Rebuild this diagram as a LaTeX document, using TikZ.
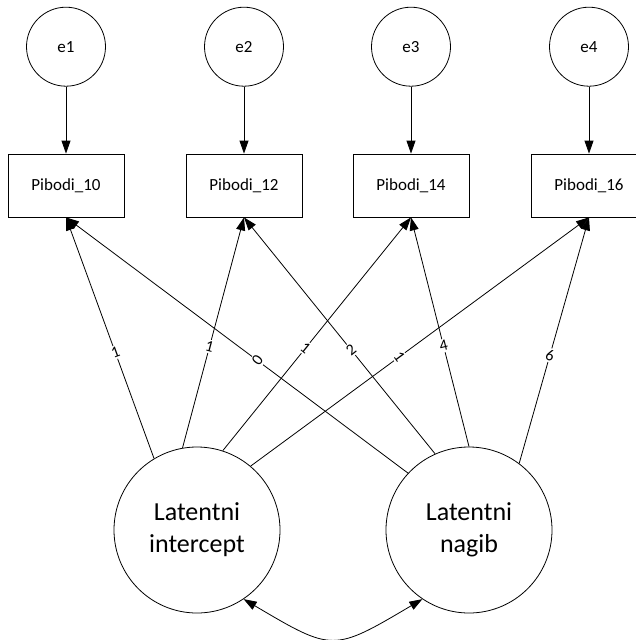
\documentclass[tikz,border=0pt]{standalone}
\usepackage{fontspec}
\setmainfont{Carlito}
\usepackage{tikz}
\usetikzlibrary{positioning,arrows.meta}

\begin{document}
\begin{tikzpicture}[
  x = 1pt, y = -1pt, line width = 0.8pt,
  err/.style = {draw, circle, minimum size=79pt, inner sep=0pt,
                font=\fontsize{17}{20}\selectfont},
  obs/.style = {draw, rectangle, minimum width=116pt, minimum height=63pt,
                font=\fontsize{17}{20}\selectfont},
  lat/.style = {draw, circle, minimum size=166pt, inner sep=0pt, align=center,
                font=\fontsize{26}{32}\selectfont},
  arr/.style = {-{Triangle[length=13pt,width=9pt]}},
  cov/.style = {{Triangle[length=13pt,width=9pt]}-{Triangle[length=13pt,width=9pt]}},
  lbl/.style = {font=\fontsize{16}{18}\selectfont, pos=0.44, sloped, allow upside down,
                rotate=-90, fill=white, inner sep=1.5pt}
]
  \useasboundingbox (0,0) rectangle (636,640);

  % observed
  \node[obs] (p10) at (66,185.5)  {Pibodi\_10};
  \node[obs] (p12) at (244,185.5) {Pibodi\_12};
  \node[obs] (p14) at (411,185.5) {Pibodi\_14};
  \node[obs] (p16) at (589,185.5) {Pibodi\_16};

  % errors
  \node[err, above=67pt of p10] (e1) {e1};
  \node[err, above=67pt of p12] (e2) {e2};
  \node[err, above=67pt of p14] (e3) {e3};
  \node[err, above=67pt of p16] (e4) {e4};

  % latent
  \node[lat] (lint) at (197,530) {Latentni\\intercept};
  \node[lat] (lnag) at (469,530) {Latentni\\nagib};

  \draw[arr] (e1) -- (p10);
  \draw[arr] (e2) -- (p12);
  \draw[arr] (e3) -- (p14);
  \draw[arr] (e4) -- (p16);

  \draw[arr] (lint.121) -- node[lbl]{1} (p10.south);
  \draw[arr] (lint.100) -- node[lbl]{1} (p12.south);
  \draw[arr] (lint.72)  -- node[lbl]{1} (p14.south);
  \draw[arr] (lint.50)  -- node[lbl]{1} (p16.south);
  \draw[arr] (lnag.137) -- node[lbl]{0} (p10.south);
  \draw[arr] (lnag.114) -- node[lbl]{2} (p12.south);
  \draw[arr] (lnag.90)  -- node[lbl]{4} (p14.south);
  \draw[arr] (lnag.53)  -- node[lbl]{6} (p16.south);

  \coordinate (bend) at (333,652);
  \draw[cov] (lint.-56) .. controls (bend) and (bend) .. (lnag.-124);
\end{tikzpicture}
\end{document}
